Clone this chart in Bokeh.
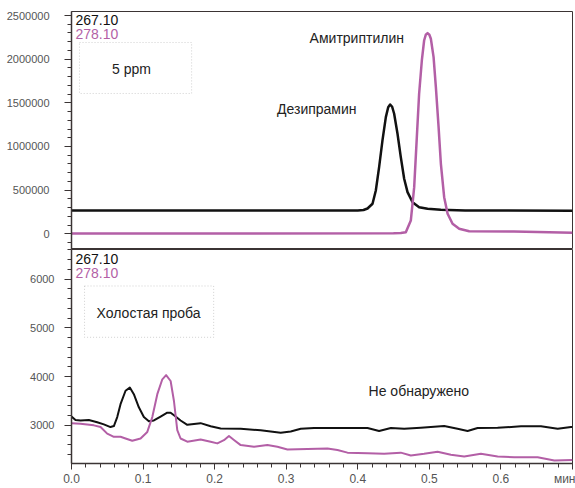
from bokeh.plotting import figure
from bokeh.layouts import column
from bokeh.models import (Range1d, FixedTicker, BasicTickFormatter, NumeralTickFormatter,
                          Label, BoxAnnotation)
from bokeh.embed import file_html
from bokeh.resources import INLINE

# ---------------- data ----------------
series_names = ["267.10", "278.10"]
peak_names = ["Дезипрамин", "Амитриптилин"]
panel_notes = ["5 ppm", "Холостая проба"]
blank_note = "Не обнаружено"
x_unit = "мин"

x_ticks = [0.0, 0.1, 0.2, 0.3, 0.4, 0.5, 0.6, 0.7]
x_tick_labels = ["0.0", "0.1", "0.2", "0.3", "0.4", "0.5", "0.6", x_unit]
top_y_ticks = [0, 500000, 1000000, 1500000, 2000000, 2500000]
bot_y_ticks = [3000, 4000, 5000, 6000]

# top panel (5 ppm)
top_t_267 = [0.0, 0.40, 0.408, 0.4136, 0.4206, 0.4252, 0.4298, 0.4345, 0.4392, 0.4425, 0.4452,
             0.4480, 0.4508, 0.4555, 0.4601, 0.4648, 0.4695, 0.4765, 0.4857, 0.4975, 0.516, 0.55, 0.7]
top_v_267 = [267000, 267000, 272000, 290000, 344000, 496000, 763000, 1069000, 1336000, 1450000, 1481000,
             1455000, 1375000, 1146000, 878000, 630000, 477000, 362000, 305000, 286000, 275000, 268000, 265000]

top_t_278 = [0.0, 0.45, 0.4601, 0.4671, 0.4741, 0.4788, 0.4825, 0.4857, 0.4895, 0.4927, 0.4950, 0.4975,
             0.5000, 0.5021, 0.5059, 0.5091, 0.5129, 0.5161, 0.5207, 0.5255, 0.5324, 0.5417, 0.5557, 0.618, 0.7]
top_v_278 = [3000, 5000, 8000, 18000, 152000, 534000, 1107000, 1604000, 1985000, 2214000, 2280000, 2298000,
             2280000, 2234000, 2023000, 1679000, 1221000, 802000, 419000, 229000, 115000, 57000, 30000, 26000, 12000]

# bottom panel (blank)
bot_t_267 = [0.0, 0.0056, 0.0126, 0.0242, 0.0359, 0.0452, 0.0545, 0.0592, 0.0639, 0.0685, 0.0755, 0.0815,
             0.0871, 0.0941, 0.1011, 0.1081, 0.1151, 0.1245, 0.1338, 0.1385, 0.1455, 0.1524, 0.1618, 0.1804,
             0.1944, 0.2084, 0.2364, 0.2643, 0.2923, 0.3063, 0.3203, 0.3389, 0.3762, 0.4136, 0.4298, 0.4462,
             0.4648, 0.4881, 0.5207, 0.5394, 0.5534, 0.5674, 0.5954, 0.628, 0.6559, 0.6793, 0.6979, 0.7]
bot_v_267 = [3180, 3110, 3100, 3110, 3065, 3020, 2965, 2985, 3170, 3435, 3710, 3775,
             3640, 3370, 3170, 3085, 3100, 3180, 3260, 3260, 3180, 3100, 3010, 3045,
             2980, 2935, 2930, 2900, 2850, 2875, 2930, 2945, 2945, 2945, 2885, 2945,
             2930, 2950, 2985, 2930, 2885, 2945, 2950, 2980, 2980, 2930, 2965, 2965]

bot_t_278 = [0.0, 0.0126, 0.0312, 0.0406, 0.0499, 0.0592, 0.0685, 0.0755, 0.0849, 0.0965, 0.1059, 0.1129,
             0.1199, 0.1269, 0.1322, 0.1385, 0.1431, 0.1478, 0.1524, 0.1618, 0.1804, 0.1944, 0.2038, 0.213,
             0.22, 0.227, 0.2364, 0.255, 0.2737, 0.2877, 0.3017, 0.3297, 0.3576, 0.3716, 0.3856, 0.4136,
             0.4368, 0.4601, 0.4741, 0.4927, 0.5115, 0.5301, 0.5487, 0.572, 0.5954, 0.6186, 0.6513, 0.6746, 0.7]
bot_v_278 = [3045, 3035, 3000, 2965, 2830, 2765, 2765, 2730, 2685, 2730, 2865, 3170,
             3640, 3945, 4030, 3910, 3505, 2900, 2730, 2665, 2710, 2665, 2630, 2695,
             2780, 2700, 2595, 2560, 2595, 2560, 2505, 2515, 2525, 2495, 2440, 2425,
             2415, 2440, 2380, 2415, 2460, 2395, 2360, 2415, 2360, 2345, 2345, 2280, 2290]

# ---------------- style ----------------
BLACK = "#111111"
PINK = "#b35fa6"
AXIS = "#3b3434"
TICK_TXT = "#555555"
SANS = "Liberation Sans"

x_minor = [round(i * 0.02, 2) for i in range(36)]
top_minor = [i * 100000 for i in range(-1, 26)]
bot_minor = [2400 + i * 200 for i in range(22)]


def style_yaxis(p, ticks, minor, standoff):
    ax = p.yaxis[0]
    ax.ticker = FixedTicker(ticks=ticks, minor_ticks=minor)
    ax.formatter = BasicTickFormatter(use_scientific=False)
    ax.axis_line_color = AXIS
    ax.axis_line_width = 1.5
    ax.major_tick_line_color = AXIS
    ax.minor_tick_line_color = AXIS
    ax.major_tick_out = 7
    ax.major_tick_in = 0
    ax.minor_tick_out = 4
    ax.minor_tick_in = 0
    ax.major_label_text_font = SANS
    ax.major_label_text_font_size = "11px"
    ax.major_label_text_color = TICK_TXT
    ax.major_label_standoff = standoff


def add_series_labels(p, y_top, first_off, second_off):
    p.add_layout(Label(x=0, y=y_top, x_offset=4, y_offset=first_off, text=series_names[0],
                       text_font=SANS, text_font_size="14px", text_color=BLACK,
                       text_baseline="top", text_align="left"))
    p.add_layout(Label(x=0, y=y_top, x_offset=4, y_offset=second_off, text=series_names[1],
                       text_font=SANS, text_font_size="14px", text_color=PINK,
                       text_baseline="top", text_align="left"))


# ---------------- top panel ----------------
top = figure(width=575, height=249, output_backend="svg", toolbar_location=None,
             x_range=Range1d(0, 0.7), y_range=Range1d(-180000, 2546000),
             x_axis_location=None, min_border_left=71, min_border_right=3,
             min_border_top=11, min_border_bottom=0)
top.grid.visible = False
top.outline_line_color = AXIS
top.outline_line_width = 1
top.background_fill_color = "white"
top.border_fill_color = "white"
style_yaxis(top, top_y_ticks, top_minor, 15)

top.line(top_t_267, top_v_267, line_color=BLACK, line_width=2.5, line_join="round")
top.line(top_t_278, top_v_278, line_color=PINK, line_width=2.5, line_join="round")

add_series_labels(top, 2546000, -3, -17)
top.add_layout(BoxAnnotation(left=0.0112, right=0.1678, bottom=1607000, top=2191000,
                             fill_alpha=0, line_color="#666666", line_dash="1 2", line_width=1))
top.add_layout(Label(x=0.0839, y=1882000, text=panel_notes[0], text_font=SANS, text_font_size="14px",
                     text_color="#222222", text_align="center", text_baseline="middle"))
top.add_layout(Label(x=0.3427, y=1424000, text=peak_names[0], text_font=SANS, text_font_size="14px",
                     text_color="#222222", text_align="center", text_baseline="middle"))
top.add_layout(Label(x=0.3986, y=2237000, text=peak_names[1], text_font=SANS, text_font_size="14px",
                     text_color="#222222", text_align="center", text_baseline="middle"))

# ---------------- bottom panel ----------------
bot = figure(width=575, height=239, output_backend="svg", toolbar_location=None,
             x_range=Range1d(0, 0.7), y_range=Range1d(2217, 6609),
             min_border_left=71, min_border_right=3, min_border_top=0, min_border_bottom=21)
bot.grid.visible = False
bot.outline_line_color = AXIS
bot.outline_line_width = 1
bot.background_fill_color = "white"
bot.border_fill_color = "white"
style_yaxis(bot, bot_y_ticks, bot_minor, 10)

xa = bot.xaxis[0]
xa.ticker = FixedTicker(ticks=x_ticks, minor_ticks=x_minor)
xa.formatter = NumeralTickFormatter(format="0.0")
xa.major_label_overrides = {t: lab for t, lab in zip(x_ticks, x_tick_labels)}
xa.axis_line_color = AXIS
xa.axis_line_width = 1.5
xa.major_tick_line_color = AXIS
xa.minor_tick_line_color = AXIS
xa.major_tick_out = 6
xa.major_tick_in = 0
xa.minor_tick_out = 4
xa.minor_tick_in = 0
xa.major_label_text_font = SANS
xa.major_label_text_font_size = "12px"
xa.major_label_text_color = TICK_TXT
xa.major_label_standoff = 2

bot.line(bot_t_267, bot_v_267, line_color=BLACK, line_width=2, line_join="round")
bot.line(bot_t_278, bot_v_278, line_color=PINK, line_width=2, line_join="round")

add_series_labels(bot, 6609, -4, -18)
bot.add_layout(BoxAnnotation(left=0.0182, right=0.1986, bottom=4807, top=5860,
                             fill_alpha=0, line_color="#666666", line_dash="1 2", line_width=1))
bot.add_layout(Label(x=0.1077, y=5313, text=panel_notes[1], text_font=SANS, text_font_size="14px",
                     text_color="#222222", text_align="center", text_baseline="middle"))
bot.add_layout(Label(x=0.4853, y=3714, text=blank_note, text_font=SANS, text_font_size="14px",
                     text_color="#222222", text_align="center", text_baseline="middle"))

layout = column(top, bot, spacing=0)
open("out.html", "w").write(file_html(layout, INLINE))
